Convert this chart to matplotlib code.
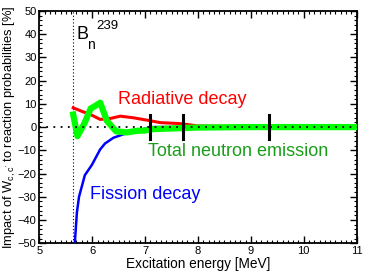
import matplotlib
matplotlib.use('Agg')
import matplotlib.pyplot as plt
from matplotlib.ticker import MultipleLocator

plt.rcParams.update({'font.family': ['Liberation Sans', 'DejaVu Sans'],
                     'mathtext.fontset': 'custom', 'mathtext.rm': 'Liberation Sans',
                     'mathtext.it': 'Liberation Sans'})

# Neutron separation energy of the compound nucleus
bn = 5.64

# Radiative decay
rad_x = [5.64, 5.80, 5.96, 6.15, 6.34, 6.53, 6.78, 7.03, 7.29, 7.66, 8.0, 8.5, 9.0, 10.0, 11.2]
rad_y = [8.3, 6.8, 5.5, 3.3, 3.7, 4.7, 4.0, 3.0, 1.9, 1.5, 0.5, 0.3, 0.2, 0.1, 0.0]

# Total neutron emission
neu_x = [5.64, 5.72, 5.85, 5.97, 6.05, 6.15, 6.28, 6.45, 6.65, 6.85, 7.0, 7.1, 7.5, 8.0, 9.0, 10.0, 11.2]
neu_y = [5.4, -3.9, 1.5, 8.0, 9.0, 10.5, 2.6, -1.8, -2.3, -1.6, -1.5, -0.9, -0.6, -0.2, 0.0, 0.0, 0.0]

# Fission decay
fis_x = [5.64, 5.71, 5.75, 5.86, 5.99, 6.15, 6.24, 6.40, 6.59, 6.84, 7.1, 7.5, 8.0, 9.0, 11.2]
fis_y = [-60.0, -36.7, -30.0, -20.7, -16.4, -9.6, -7.1, -4.6, -3.1, -1.7, 0.0, 0.0, 0.0, 0.0, 0.0]

# Energies of the black markers
mark_x = [7.10, 7.72, 9.35]

fig = plt.figure(figsize=(3.68, 2.73), dpi=100)
ax = fig.add_axes([0.107, 0.109, 0.862, 0.851])

ax.axhline(0, color='black', linestyle=(0, (1, 3)), linewidth=1.3, zorder=5)
ax.axvline(bn, color='black', linestyle=(0, (1, 2)), linewidth=0.8, zorder=1)

ax.plot(rad_x, rad_y, color='#ff0000', linewidth=2.2, zorder=3)
ax.plot(fis_x, fis_y, color='#0000ff', linewidth=1.8, zorder=3)
ax.plot(neu_x, neu_y, color='#00ff00', linewidth=4.5, zorder=4)
for mx in mark_x:
    ax.plot([mx, mx], [-5, 5], color='black', linewidth=2.2, zorder=6)

ax.text(6.49, 12, 'Radiative decay', color='#ff0000', fontsize=13, va='center')
ax.text(7.06, -10.7, 'Total neutron emission', color='#1a9e1a', fontsize=13, va='center')
ax.text(5.96, -29, 'Fission decay', color='#0000ff', fontsize=13, va='center')
ax.text(5.71, 39.8, 'B', fontsize=13, va='center')
ax.text(5.90, 35.2, 'n', fontsize=10, va='center')
ax.text(6.07, 43.3, '239', fontsize=9.5, va='center')

ax.set_xlim(5, 11)
ax.set_ylim(-50, 50)
ax.xaxis.set_major_locator(MultipleLocator(1))
ax.xaxis.set_minor_locator(MultipleLocator(0.1))
ax.yaxis.set_major_locator(MultipleLocator(10))
ax.yaxis.set_minor_locator(MultipleLocator(2))
ax.tick_params(which='both', direction='in', top=True, right=True, labelsize=8, pad=2)
ax.tick_params(which='major', length=5, width=1)
ax.tick_params(which='minor', length=2.5, width=0.8)
for s in ax.spines.values():
    s.set_linewidth(1.3)

ax.set_xlabel('Excitation energy [MeV]', fontsize=9.8, labelpad=1)
ax.set_ylabel("Impact of W$_{c,c'}$ to reaction probabilities [%]", fontsize=9.3, labelpad=0)

fig.savefig('out.png', dpi=100)
